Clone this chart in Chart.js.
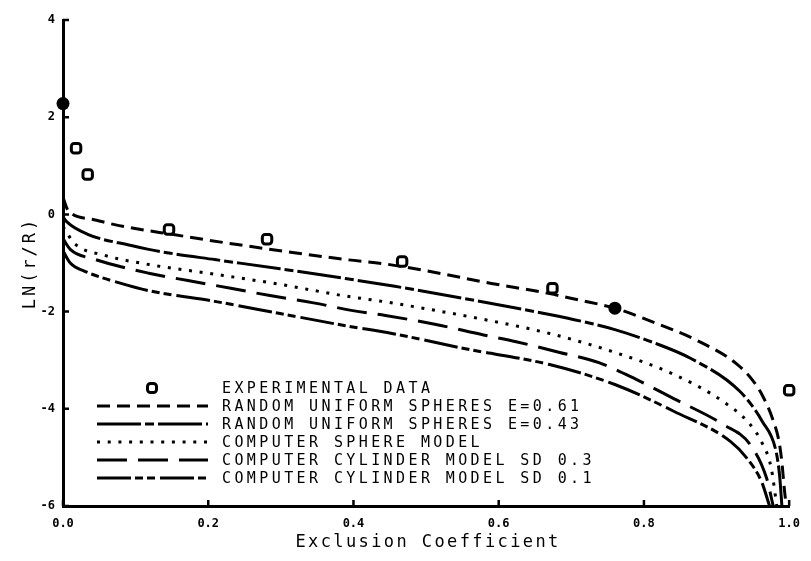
<!DOCTYPE html>
<html>
<head>
<meta charset="utf-8">
<script src="https://cdn.jsdelivr.net/npm/chart.js@4/dist/chart.umd.min.js"></script>
<style>
  html, body { margin: 0; padding: 0; background: #fff; }
  #wrap { width: 811px; height: 561px; }
</style>
</head>
<body>
<div id="wrap"><canvas id="chart" width="811" height="561"></canvas></div>
<script>
// axis ticks
const xTicks = [0, 0.2, 0.4, 0.6, 0.8, 1.0];
const xTickLabels = ['0.0', '0.2', '0.4', '0.6', '0.8', '1.0'];
const yTicks = [-6, -4, -2, 0, 2, 4];
const yTickLabels = ['-6', '-4', '-2', '0', '2', '4'];

const xTitle = 'Exclusion Coefficient';
const yTitle = 'LN(r/R)';

// experimental data
const expX = [0, 0.018, 0.034, 0.146, 0.281, 0.467, 0.674, 0.76, 1.0];
const expY = [2.28, 1.36, 0.82, -0.31, -0.51, -0.97, -1.52, -1.93, -3.62];

// random uniform spheres E=0.61
const e61X = [0, 0.007, 0.04, 0.071, 0.111, 0.15, 0.2, 0.24, 0.31, 0.39, 0.444, 0.5, 0.59, 0.67, 0.71, 0.76, 0.81, 0.874, 0.928, 0.95, 0.963, 0.977, 0.986, 0.99, 0.993, 0.996];
const e61Y = [0.35, 0.08, -0.1, -0.21, -0.32, -0.41, -0.53, -0.62, -0.77, -0.93, -1.02, -1.16, -1.42, -1.63, -1.76, -1.93, -2.2, -2.6, -3.08, -3.42, -3.72, -4.2, -4.67, -5.1, -5.6, -6.0];

// random uniform spheres E=0.43
const e43X = [0, 0.005, 0.034, 0.094, 0.118, 0.148, 0.209, 0.299, 0.389, 0.457, 0.556, 0.67, 0.729, 0.76, 0.81, 0.864, 0.932, 0.963, 0.982, 0.987, 0.99];
const e43Y = [-0.05, -0.15, -0.41, -0.64, -0.72, -0.8, -0.93, -1.12, -1.32, -1.48, -1.74, -2.06, -2.25, -2.37, -2.62, -2.96, -3.64, -4.26, -4.88, -5.4, -6.0];

// computer sphere model
const sphX = [0, 0.016, 0.057, 0.118, 0.209, 0.299, 0.389, 0.444, 0.579, 0.67, 0.76, 0.841, 0.909, 0.945, 0.963, 0.975, 0.983];
const sphY = [-0.25, -0.6, -0.84, -1.03, -1.23, -1.44, -1.68, -1.8, -2.16, -2.45, -2.84, -3.29, -3.85, -4.3, -4.71, -5.2, -6.0];

// computer cylinder model SD 0.3
const cyl3X = [0, 0.01, 0.043, 0.118, 0.172, 0.231, 0.285, 0.345, 0.399, 0.444, 0.512, 0.579, 0.624, 0.684, 0.738, 0.79, 0.841, 0.909, 0.946, 0.969, 0.978];
const cyl3Y = [-0.5, -0.72, -0.92, -1.21, -1.36, -1.52, -1.67, -1.82, -1.98, -2.08, -2.26, -2.48, -2.62, -2.84, -3.05, -3.4, -3.79, -4.32, -4.73, -5.43, -6.0];

// computer cylinder model SD 0.1
const cyl1X = [0, 0.01, 0.03, 0.08, 0.118, 0.209, 0.299, 0.389, 0.453, 0.556, 0.67, 0.76, 0.841, 0.919, 0.942, 0.962, 0.973];
const cyl1Y = [-0.75, -1.0, -1.17, -1.42, -1.57, -1.79, -2.04, -2.29, -2.45, -2.77, -3.09, -3.5, -4.05, -4.67, -5.02, -5.5, -6.0];

const solidPoints = [0, 7];   // overlapping observations drawn as filled dots

const toXY = (xs, ys) => xs.map((x, i) => ({ x: x, y: ys[i] }));

const curve = (label, xs, ys, dash) => ({
  label: label,
  data: toXY(xs, ys),
  showLine: true,
  borderColor: '#000',
  borderWidth: 3,
  borderDash: dash,
  borderCapStyle: 'butt',
  pointRadius: 0,
  cubicInterpolationMode: 'monotone',
  order: 1
});

const mono = '"DejaVu Sans Mono", "Liberation Mono", monospace';

function drawMarker(ctx, x, y, solid) {
  ctx.save();
  ctx.fillStyle = '#000';
  ctx.strokeStyle = '#000';
  if (solid) {
    ctx.beginPath();
    ctx.arc(x, y, 6.5, 0, Math.PI * 2);
    ctx.fill();
  } else {
    ctx.lineWidth = 3;
    ctx.fillStyle = '#fff';
    ctx.beginPath();
    ctx.roundRect(x - 4.5, y - 4.5, 9, 9, 3);
    ctx.fill();
    ctx.stroke();
  }
  ctx.restore();
}

// inward tick marks on both axes
const inwardTicks = {
  id: 'inwardTicks',
  afterDraw(chart) {
    const { ctx, chartArea: a, scales: { x, y } } = chart;
    ctx.save();
    ctx.strokeStyle = '#000';
    ctx.lineWidth = 2.5;
    ctx.beginPath();
    xTicks.forEach(v => {
      const px = x.getPixelForValue(v);
      ctx.moveTo(px, a.bottom);
      ctx.lineTo(px, a.bottom - 6);
    });
    yTicks.forEach(v => {
      const py = y.getPixelForValue(v);
      ctx.moveTo(a.left, py);
      ctx.lineTo(a.left + 6, py);
    });
    ctx.stroke();
    ctx.restore();
  }
};

// axis titles with the wide plotter spacing
const axisTitles = {
  id: 'axisTitles',
  afterDraw(chart) {
    const { ctx, chartArea: a } = chart;
    ctx.save();
    ctx.fillStyle = '#000';
    ctx.font = '17px ' + mono;
    ctx.letterSpacing = '2.4px';
    ctx.textAlign = 'center';
    ctx.textBaseline = 'middle';
    ctx.fillText(xTitle, (a.left + a.right) / 2 + 2, 543);
    ctx.translate(35, (a.top + a.bottom) / 2);
    ctx.rotate(-Math.PI / 2);
    ctx.font = '17px ' + mono;
    ctx.letterSpacing = '3px';
    ctx.textBaseline = 'alphabetic';
    ctx.fillText(yTitle, 0, 0);
    ctx.restore();
  }
};

// legend inside the plot, lower left
const plotLegend = {
  id: 'plotLegend',
  afterDraw(chart) {
    const ctx = chart.ctx;
    ctx.save();
    ctx.font = '15px ' + mono;
    ctx.letterSpacing = '3.4px';
    ctx.textBaseline = 'middle';
    ctx.fillStyle = '#000';
    chart.data.datasets.forEach((ds, i) => {
      const yRow = 388 + i * 18;
      if (i === 0) {
        drawMarker(ctx, 152, yRow, false);
      } else {
        ctx.save();
        ctx.strokeStyle = '#000';
        ctx.lineWidth = 3;
        ctx.setLineDash(ds.borderDash);
        ctx.beginPath();
        ctx.moveTo(97, yRow);
        ctx.lineTo(208, yRow);
        ctx.stroke();
        ctx.restore();
      }
      ctx.fillText(ds.label, 222, yRow + 1);
    });
    ctx.restore();
  }
};

new Chart(document.getElementById('chart'), {
  type: 'scatter',
  data: {
    datasets: [
      {
        label: 'EXPERIMENTAL DATA',
        data: toXY(expX, expY),
        showLine: false,
        clip: false,
        order: 0,
        pointStyle: c => solidPoints.includes(c.dataIndex) ? 'circle' : 'rectRounded',
        pointRadius: c => solidPoints.includes(c.dataIndex) ? 6.5 : 5.5,
        pointBorderWidth: c => solidPoints.includes(c.dataIndex) ? 0 : 3,
        pointBackgroundColor: c => solidPoints.includes(c.dataIndex) ? '#000' : '#fff',
        pointBorderColor: '#000'
      },
      curve('RANDOM UNIFORM SPHERES E=0.61', e61X, e61Y, [13, 7]),
      curve('RANDOM UNIFORM SPHERES E=0.43', e43X, e43Y, [44, 4, 9, 4]),
      curve('COMPUTER SPHERE MODEL', sphX, sphY, [3, 7.7]),
      curve('COMPUTER CYLINDER MODEL SD 0.3', cyl3X, cyl3Y, [30, 11]),
      curve('COMPUTER CYLINDER MODEL SD 0.1', cyl1X, cyl1Y, [34, 4, 8, 4, 8, 5])
    ]
  },
  options: {
    responsive: false,
    animation: false,
    layout: { padding: { top: 20, right: 11, left: 0, bottom: 0 } },
    plugins: {
      legend: { display: false },
      tooltip: { enabled: false }
    },
    scales: {
      x: {
        type: 'linear',
        min: 0,
        max: 1,
        afterFit(s) { s.height = 55; },
        afterBuildTicks(s) { s.ticks = xTicks.map(v => ({ value: v })); },
        grid: { display: false, drawTicks: false },
        border: { display: true, width: 3, color: '#000' },
        ticks: {
          color: '#000',
          padding: 11,
          maxRotation: 0,
          font: { family: mono, size: 12, weight: 'bold' },
          callback: (v, i) => xTickLabels[i]
        }
      },
      y: {
        type: 'linear',
        min: -6,
        max: 4,
        afterFit(s) { s.width = 63; },
        afterBuildTicks(s) { s.ticks = yTicks.map(v => ({ value: v })); },
        grid: { display: false, drawTicks: false },
        border: { display: true, width: 3, color: '#000' },
        ticks: {
          color: '#000',
          padding: 8,
          font: { family: mono, size: 12, weight: 'bold' },
          callback: (v, i) => yTickLabels[i]
        }
      }
    }
  },
  plugins: [inwardTicks, axisTitles, plotLegend]
});
</script>
</body>
</html>
